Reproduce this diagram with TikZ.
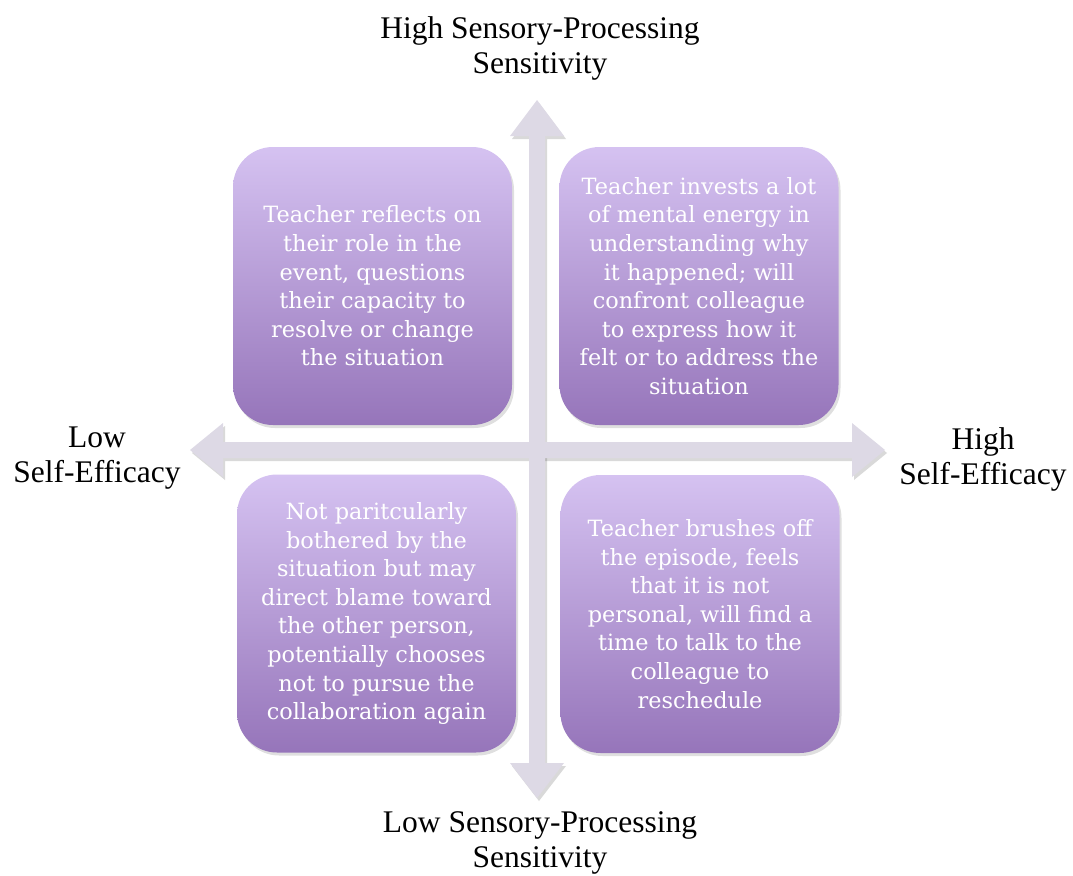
\documentclass[tikz,border=0pt]{standalone}
\usepackage{fontspec}
\setmainfont{Liberation Serif}
\newfontfamily\quadfont{DejaVu Serif}
\usetikzlibrary{shadows}
\definecolor{axisgray}{RGB}{221,217,229}
\definecolor{quadtop}{RGB}{213,194,241}
\definecolor{quadbottom}{RGB}{150,117,186}
\newcommand\haxispath{(190,450) -- (223,423) -- (223,442) -- (852,442) -- (852,423)
  -- (885,450) -- (852,477) -- (852,458) -- (223,458) -- (223,477) -- cycle}
\newcommand\vaxispath{(537,100) -- (564,136) -- (545,136) -- (545,763) -- (564,763)
  -- (537,798) -- (510,763) -- (529,763) -- (529,136) -- (510,136) -- cycle}
\tikzset{
  quad/.style={rounded corners=40pt, minimum width=279pt, minimum height=278pt,
    inner sep=0pt, top color=quadtop, bottom color=quadbottom, text=white,
    align=center, font=\quadfont\fontsize{22.4}{28.6}\selectfont,
    drop shadow={opacity=0.25, shadow xshift=2pt, shadow yshift=-3pt}},
  axisshadow/.style={fill=black, opacity=0.15, shift={(2,3)}},
  axisarrow/.style={fill=axisgray},
  axislabel/.style={align=center, font=\fontsize{31.5}{35}\selectfont}
}
\begin{document}
\begin{tikzpicture}[x=1pt,y=-1pt]
      \useasboundingbox (0,0) rectangle (1073,875);
      % axes
      \fill[axisshadow] \haxispath;
      \fill[axisshadow] \vaxispath;
      \fill[axisarrow] \haxispath;
      \fill[axisarrow] \vaxispath;
      % quadrants
      \node[quad] (tl) at (372.5,286) {Teacher reflects on\\their role in the\\event, questions\\their capacity to\\resolve or change\\the situation};
      \node[quad] (tr) at (699,286) {Teacher invests a lot\\of mental energy in\\understanding why\\it happened; will\\confront colleague\\to express how it\\felt or to address the\\situation};
      \node[quad] (bl) at (376.5,613.5) {Not paritcularly\\bothered by the\\situation but may\\direct blame toward\\the other person,\\potentially chooses\\not to pursue the\\collaboration again};
      \node[quad] (br) at (700,614) {Teacher brushes off\\the episode, feels\\that it is not\\personal, will find a\\time to talk to the\\colleague to\\reschedule};
      % axis labels
      \node[axislabel] (top) at (540,48) {High Sensory-Processing\\Sensitivity};
      \node[axislabel] (bottom) at (540,843) {Low Sensory-Processing\\Sensitivity};
      \node[axislabel] (left) at (97,458) {Low\\Self-Efficacy};
      \node[axislabel] (right) at (983,459) {High\\Self-Efficacy};
    \end{tikzpicture}
\end{document}
